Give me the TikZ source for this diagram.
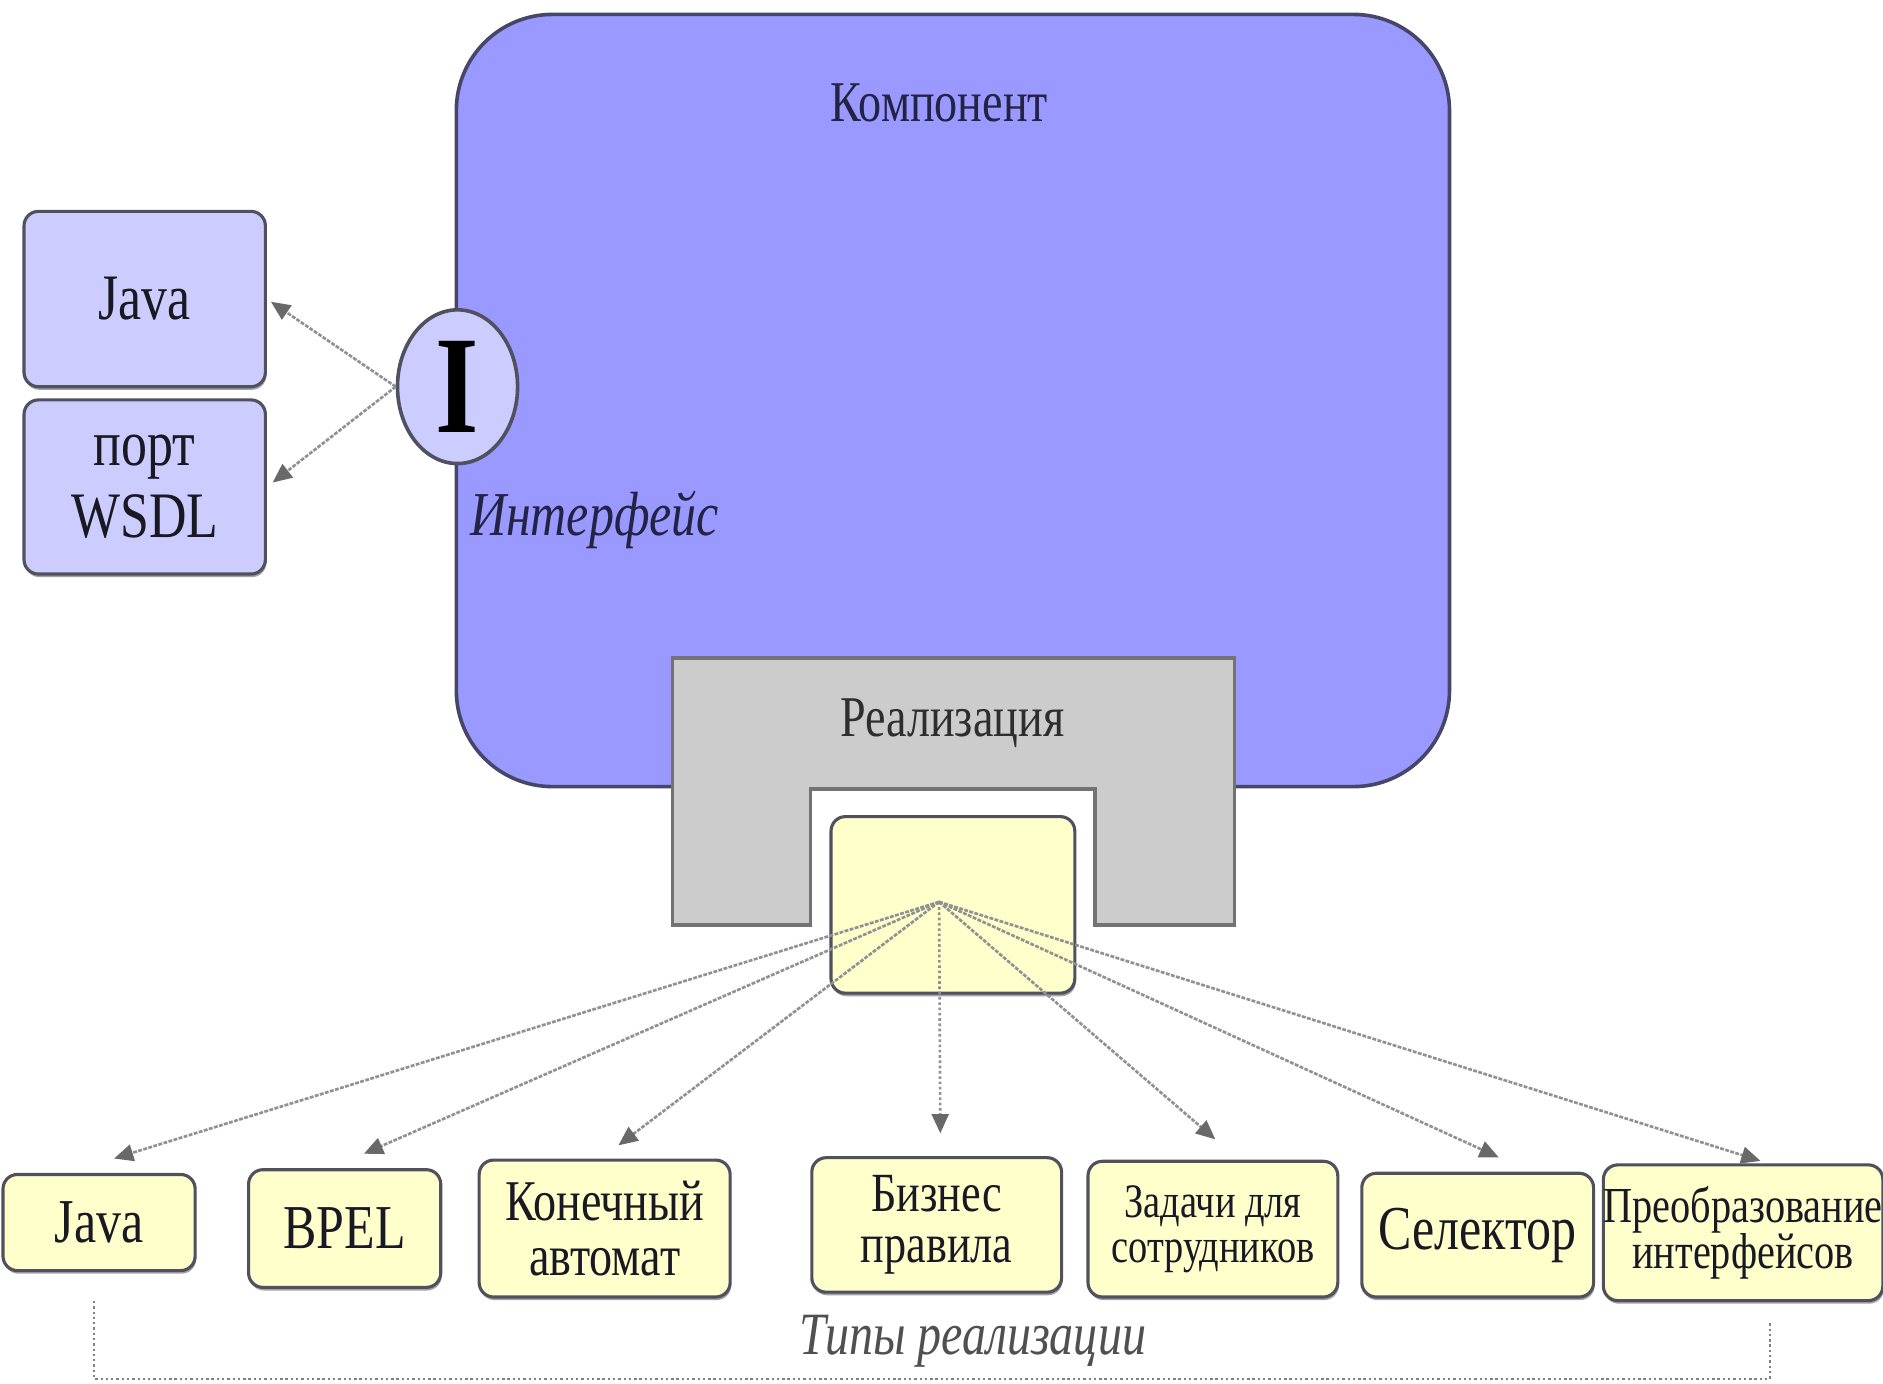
\documentclass[tikz,border=0pt]{standalone}
\usepackage{fontspec}
\setmainfont[FakeStretch=0.8]{Liberation Serif}
\usetikzlibrary{arrows.meta,shapes.geometric,shadows,calc}
\definecolor{compblue}{RGB}{153,153,255}
\definecolor{lightblue}{RGB}{204,204,255}
\definecolor{implgray}{RGB}{204,204,204}
\definecolor{pale}{RGB}{255,255,204}
\definecolor{edgedark}{RGB}{80,80,95}
\definecolor{compedge}{RGB}{70,70,105}
\definecolor{txt}{RGB}{25,25,35}
\definecolor{navytxt}{RGB}{35,35,70}
\definecolor{arrowgray}{RGB}{145,145,145}
\definecolor{tipgray}{RGB}{105,105,105}
\definecolor{captiongray}{RGB}{80,80,80}
\begin{document}
\begin{tikzpicture}[x=0.5pt,y=-0.5pt,
  shadowed/.style={drop shadow={shadow xshift=0.4pt,shadow yshift=-1.3pt,fill=black!60,opacity=0.6}},
  bluebox/.style={draw=edgedark,line width=1.3pt,fill=lightblue,rounded corners=6pt,
    align=center,text=txt,inner sep=0pt,shadowed},
  typebox/.style={draw=edgedark,line width=1.3pt,fill=pale,rounded corners=6pt,
    align=center,text=txt,inner sep=0pt,shadowed},
  linkarrow/.style={draw=arrowgray,line width=1.1pt,dash pattern=on 1.6pt off 0.6pt,
    -{Triangle[length=8pt,width=7pt,color=tipgray]}},
  dotarrow/.style={draw=arrowgray,line width=1.1pt,dash pattern=on 1.1pt off 1.1pt,
    -{Triangle[length=8pt,width=7pt,color=tipgray]}},
  bracketline/.style={draw=gray,line width=0.9pt,dash pattern=on 1pt off 1.2pt},
]
\fill[white] (0,0) rectangle (1568,1152);
\useasboundingbox (0,0) rectangle (1568,1152);

% main component
\node[draw=compedge,line width=1.5pt,fill=compblue,rounded corners=40pt,
  minimum width=413.5pt,minimum height=321.5pt,inner sep=0pt] (comp) at (793.5,333.5) {};
\node[text=navytxt,font=\fontsize{24}{24}\selectfont] (comptext) at (782,86) {Компонент};

% realization U-shape
\draw[fill=implgray,draw=black!55,line width=1.5pt]
  (560,548) -- (1028,548) -- (1028,770) -- (912,770) -- (912,657)
  -- (675,657) -- (675,770) -- (560,770) -- cycle;
\node[text=black!82,font=\fontsize{24}{24}\selectfont] (realtext) at (793,602) {Реализация};

% implementation box
\node[typebox,minimum width=101.5pt,minimum height=73.5pt] (impl) at (793.5,753.5) {};
\coordinate (fan) at (782,751);

% interface
\node[ellipse,draw=edgedark,line width=1.5pt,fill=lightblue,minimum width=50pt,
  minimum height=64pt,inner sep=0pt,text=black,font=\bfseries\fontsize{58}{58}\selectfont] (iface) at (381,322) {I};
\node[text=navytxt,font=\itshape\fontsize{26}{26}\selectfont] (ifacetext) at (495,433) {Интерфейс};

% left boxes
\node[bluebox,minimum width=100.5pt,minimum height=73pt,font=\fontsize{27}{30}\selectfont] (ljava) at (120.5,249) {Java};
\node[bluebox,minimum width=100.5pt,minimum height=72.5pt,font=\fontsize{27}{30}\selectfont] (lwsdl) at (120.5,405.5) {порт\\WSDL};

\draw[linkarrow,shorten >=2pt] (iface.west) -- (ljava.east);
\draw[linkarrow,shorten >=3pt] (iface.west) -- (lwsdl.east);

% implementation types
\node[typebox,minimum width=80pt,minimum height=40pt,font=\fontsize{26}{22}\selectfont] (b1) at (82.5,1018) {Java};
\node[typebox,minimum width=80pt,minimum height=49pt,font=\fontsize{26}{22}\selectfont] (b2) at (287,1023) {BPEL};
\node[typebox,minimum width=104.5pt,minimum height=57pt,font=\fontsize{24}{23}\selectfont] (b3) at (503.5,1023) {Конечный\\автомат};
\node[typebox,minimum width=104pt,minimum height=56pt,font=\fontsize{23}{21}\selectfont] (b4) at (780,1020) {Бизнес\\правила};
\node[typebox,minimum width=104pt,minimum height=56.5pt,font=\fontsize{20}{18.5}\selectfont] (b5) at (1010,1023.5) {Задачи для\\сотрудников};
\node[typebox,minimum width=96.5pt,minimum height=51.5pt,font=\fontsize{26}{22}\selectfont] (b6) at (1230.5,1028.5) {Селектор};
\node[typebox,minimum width=114.5pt,minimum height=56.5pt,font=\fontsize{21}{19.5}\selectfont] (b7) at (1451.5,1026.5) {Преобразование\\интерфейсов};

\coordinate (t1) at ($(b1.north)+(12.5,-12)$);
\coordinate (t2) at ($(b2.north)+(16,-12)$);
\coordinate (t3) at ($(b3.north)+(11.5,-11)$);
\coordinate (t4) at ($(b4.north)+(3,-19)$);
\coordinate (t5) at ($(b5.north)+(2,-17)$);
\coordinate (t6) at ($(b6.north)+(17.5,-12)$);
\coordinate (t7) at ($(b7.north)+(14.5,-2)$);

\draw[linkarrow] (fan) -- (t1);
\draw[linkarrow] (fan) -- (t2);
\draw[linkarrow] (fan) -- (t3);
\draw[dotarrow] (fan) -- (t4);
\draw[linkarrow] (fan) -- (t5);
\draw[linkarrow] (fan) -- (t6);
\draw[linkarrow] (fan) -- (t7);

% bracket
\coordinate (brA) at ($(b1.south)+(-4.5,24)$);
\coordinate (brC) at ($(b7.south)+(22.5,17)$);
\coordinate (brBot) at (0,1148);
\draw[bracketline] (brA) -- (brA |- brBot) -| (brC);
\node[text=captiongray,font=\itshape\fontsize{25}{25}\selectfont] (typestext) at (810,1117) {Типы реализации};
\end{tikzpicture}
\end{document}
